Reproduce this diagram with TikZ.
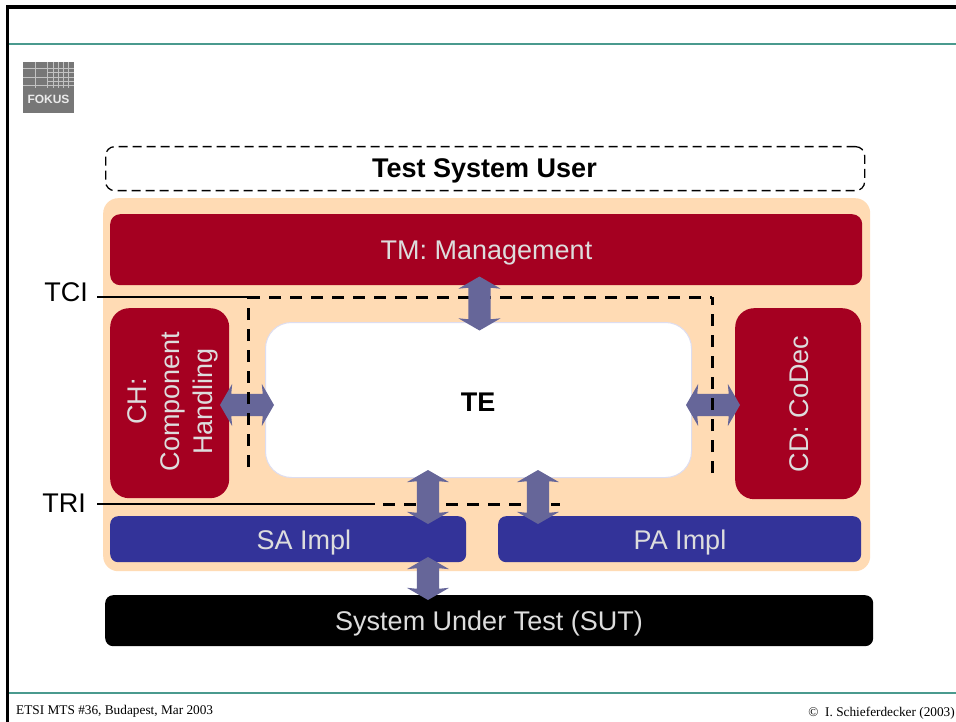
\documentclass[tikz,border=0pt]{standalone}
\usepackage{fontspec}
\setmainfont{Liberation Sans}
\newfontfamily\serifft{Liberation Serif}
\usetikzlibrary{shapes.arrows,calc}
\definecolor{peach}{HTML}{FFDBB4}
\definecolor{crim}{HTML}{A50021}
\definecolor{indigoB}{HTML}{333399}
\definecolor{arrowC}{HTML}{666699}
\definecolor{tealL}{HTML}{4A9A8E}
\definecolor{paleT}{HTML}{DDDDDD}
\definecolor{lav}{HTML}{DDDDF0}
\definecolor{logoG}{HTML}{777777}
\tikzset{
  block/.style={anchor=north west,inner sep=0pt},
  blocktext/.style={font=\fontsize{27}{33}\selectfont,text=paleT,inner sep=0pt,align=center},
  boldtext/.style={font=\bfseries\fontsize{27}{30}\selectfont,inner sep=0pt},
  biarrow/.style={shape=double arrow,fill=arrowC,draw=none,inner sep=0pt,minimum height=54pt,
    double arrow head extend=10pt,double arrow head indent=1pt,double arrow tip angle=120},
  iface/.style={draw=black,line width=2.2pt},
  dashline/.style={draw=black,line width=3pt,dash pattern=on 12pt off 9pt},
  lbl/.style={font=\fontsize{27}{30}\selectfont,inner sep=0pt},
  foot/.style={font=\serifft\fontsize{13.3}{15}\selectfont,inner sep=0pt},
  rule/.style={draw=tealL,line width=1.3pt}
}
\newcommand{\rbox}[7]{\node[block,minimum width=#3pt,minimum height=#4pt,rounded corners=#5pt,fill=#6] (#7) at (#1,#2) {};}
\newcommand{\sh}{\rule{0pt}{22pt}}
\begin{document}
\begin{tikzpicture}[x=1pt,y=-1pt]
\useasboundingbox[fill=white] (0,0) rectangle (956,722);
% page frame
\draw[line width=3.2pt,black] (7.7,722) -- (7.7,7) -- (956,7);
\draw[rule] (9,44) -- (956,44);
\draw[rule] (9,693) -- (956,693);
\node[foot,anchor=west] (ft1) at (16,711.5) {ETSI MTS \#36, Budapest, Mar 2003};
\node[foot,anchor=east] (ft2) at (955,713) {© \ I. Schieferdecker (2003)};
% logo
\fill[logoG] (23,62) rectangle (74,113);
\begin{scope}[draw=white!55!logoG,line width=.9pt]
\draw (23,68) -- (74,68); \draw (23,77) -- (74,77); \draw (23,85) -- (74,85);
\draw (35,62) -- (35,88); \draw (47,62) -- (47,88);
\foreach \v in {53,58,63,68} {\draw (\v,62) -- (\v,88);}
\foreach \v in {72.5,81} {\draw (48,\v) -- (74,\v);}
\end{scope}
\node[font=\bfseries\fontsize{12}{14}\selectfont,text=white!85!logoG,inner sep=0pt] (logo) at (48.5,99.5) {FOKUS};
% user
\node[block,minimum width=759pt,minimum height=44pt,rounded corners=9pt,draw=black,line width=1.3pt,dash pattern=on 9pt off 5pt] (user) at (105,146) {};
\node[boldtext] (userT) at (484.5,171) {Test System User};
% background
\rbox{103}{198}{767}{373}{15}{peach}{bg}
\rbox{110}{214}{752}{71}{10}{crim}{tm}
\rbox{110}{308}{119}{190}{19}{crim}{ch}
\rbox{735}{308}{126}{191}{19}{crim}{cd}
\node[block,minimum width=426pt,minimum height=155pt,rounded corners=26pt,fill=white,draw=lav,line width=1pt] (te) at (265,322) {};
\rbox{110}{516}{356}{46}{8}{indigoB}{sa}
\rbox{498}{516}{363}{46}{8}{indigoB}{pa}
\rbox{105}{595}{768}{51}{8}{black}{sut}
% block labels
\node[blocktext] (tmT) at (486.5,253) {TM: Management};
\node[blocktext,rotate=90] (chT) at (173,401.5) {CH:\\Component\\Handling};
\node[blocktext,rotate=90] (cdT) at (799.5,404) {CD: CoDec};
\node[boldtext] (teT) at (478,402) {TE};
\node[blocktext] (saT) at (304,543) {SA Impl};
\node[blocktext] (paT) at (680,543) {PA Impl};
\node[blocktext] (sutT) at (489,624) {System Under Test (SUT)};
% arrows under the dashed lines
\node[biarrow] (aL) at (247,405) {\sh};
\node[biarrow] (aR) at (713,405) {\sh};
% interfaces
\node[lbl,anchor=east] (tci) at (88,292) {TCI};
\node[lbl,anchor=east] (tri) at (86,503) {TRI};
\coordinate (tciA) at (97,297); \coordinate (tciB) at (248,297); \coordinate (tciC) at (712,297);
\coordinate (tciD) at (248,467); \coordinate (tciE) at (712,473);
\coordinate (triA) at (97,504); \coordinate (triB) at (375,504); \coordinate (triD) at (383,504); \coordinate (triC) at (560,504);
\draw[iface] (tciA) -- (tciB);
\draw[dashline] (tciB) -- (tciC);
\draw[dashline] (tciE) -- (tciC);
\draw[dashline] (tciD) -- (tciB);
\draw[iface] (triA) -- (triB);
\draw[dashline] (triD) -- (triC);
% arrows above the dashed lines
\node[biarrow,rotate=90] (aT) at (479.5,303.5) {\sh};
\node[biarrow,rotate=90] (aS) at (428,497) {\sh};
\node[biarrow,rotate=90] (aP) at (538,497) {\sh};
\node[biarrow,rotate=90,minimum height=43pt] (aU) at (428,578.5) {\sh};
\end{tikzpicture}
\end{document}
